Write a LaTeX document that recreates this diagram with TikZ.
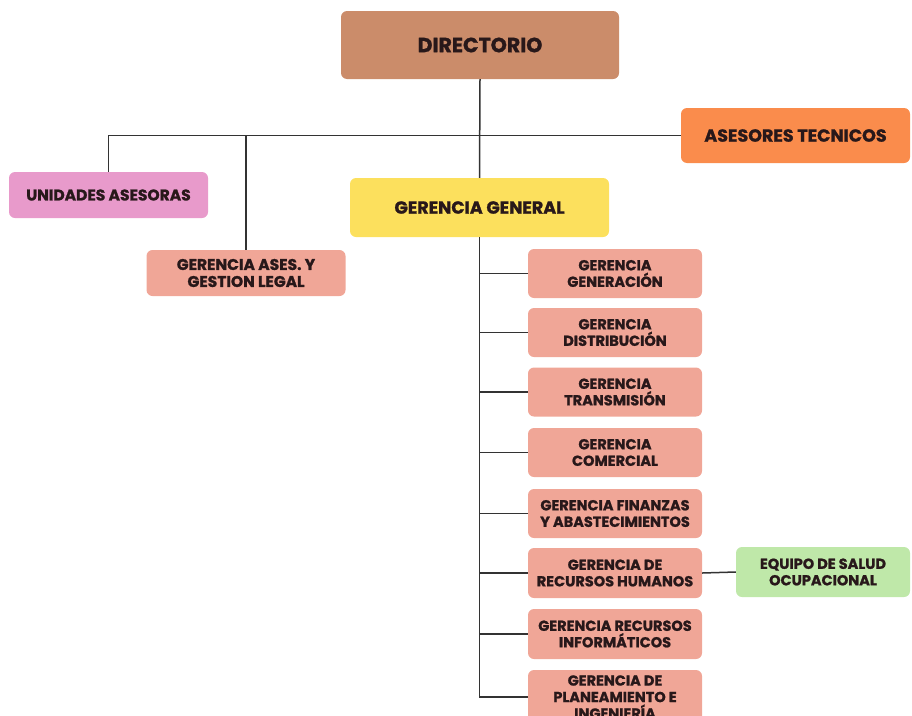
\documentclass[tikz,border=0pt]{standalone}
\usepackage{fontspec}
\setmainfont{Poppins}[BoldFeatures={FakeBold=1.2}]
\usepackage{tikz}
\usetikzlibrary{calc}
\usetikzlibrary{positioning}

\definecolor{dirbrown}{RGB}{203,140,106}
\definecolor{aseorange}{RGB}{250,140,76}
\definecolor{unipink}{RGB}{232,154,203}
\definecolor{genyellow}{RGB}{252,224,93}
\definecolor{gersalmon}{RGB}{240,166,151}
\definecolor{eqgreen}{RGB}{191,232,169}
\definecolor{txtdark}{RGB}{40,24,26}

\begin{document}
\begin{tikzpicture}[x=1pt,y=-1pt,
    box/.style={rounded corners=6pt, align=center, text=txtdark, inner sep=1pt,
      font=\bfseries\fontsize{14.5}{16.5}\selectfont},
    line/.style={draw=black!80, line width=1.5pt}]
    \useasboundingbox (0,0) rectangle (912,715);
    \clip (0,0) rectangle (912,715);

    \node[box, fill=dirbrown, minimum width=278pt, minimum height=68pt,
      font=\bfseries\fontsize{20.5}{22}\selectfont] (dir) at (480,45) {DIRECTORIO};
    \node[box, fill=aseorange, minimum width=229pt, minimum height=55pt,
      font=\bfseries\fontsize{17.5}{19}\selectfont] (ase) at (795.5,135.5) {ASESORES TECNICOS};
    \node[box, fill=unipink, minimum width=199pt, minimum height=46pt,
      font=\bfseries\fontsize{15.5}{17}\selectfont] (uni) at (108.5,195) {UNIDADES ASESORAS};
    \node[box, fill=gersalmon, minimum width=199pt, minimum height=46pt,
      font=\bfseries\fontsize{15.5}{17}\selectfont] (gal) at (246,273) {GERENCIA ASES. Y\\GESTION LEGAL};
    \node[box, fill=genyellow, minimum width=259pt, minimum height=59pt,
      font=\bfseries\fontsize{17.5}{19}\selectfont] (gg) at (479.5,207.5) {GERENCIA GENERAL};

    % gerencias de linea
    \node[box, fill=gersalmon, minimum width=174pt, minimum height=49pt] (c1) at (615,273.5) {GERENCIA\\GENERACIÓN};
    \node[box, fill=gersalmon, minimum width=174pt, minimum height=49pt] (c2) at (615,332.5) {GERENCIA\\DISTRIBUCIÓN};
    \node[box, fill=gersalmon, minimum width=174pt, minimum height=49pt] (c3) at (615,392) {GERENCIA\\TRANSMISIÓN};
    \node[box, fill=gersalmon, minimum width=174pt, minimum height=49pt] (c4) at (615,452.5) {GERENCIA\\COMERCIAL};
    \node[box, fill=gersalmon, minimum width=174pt, minimum height=49pt] (c5) at (615,513.5) {GERENCIA FINANZAS\\Y ABASTECIMIENTOS};
    \node[box, fill=gersalmon, minimum width=174pt, minimum height=50pt] (c6) at (615,573) {GERENCIA DE\\RECURSOS HUMANOS};
    \node[box, fill=gersalmon, minimum width=174pt, minimum height=50pt] (c7) at (615,634) {GERENCIA RECURSOS\\INFORMÁTICOS};
    \node[box, fill=gersalmon, minimum width=174pt, minimum height=54pt] (c8) at (615,697) {GERENCIA DE\\PLANEAMIENTO E\\INGENIERÍA};

    \node[box, fill=eqgreen, minimum width=174pt, minimum height=50pt] (eq) at (823,572) {EQUIPO DE SALUD\\OCUPACIONAL};

    % conectores
    \draw[line] (dir.south) -- (gg.north);
    \draw[line] (uni.north) |- (ase.west);
    \draw[line] (gal.north) -- (gal.north |- ase.west);
    \draw[line] (gg.south) |- (c8.west);
    \foreach \i in {1,...,7}
      \draw[line] (c\i.west) -- (c\i.west -| gg.south);
    \draw[line] (c6.east) -- (eq.west);
  \end{tikzpicture}
\end{document}
